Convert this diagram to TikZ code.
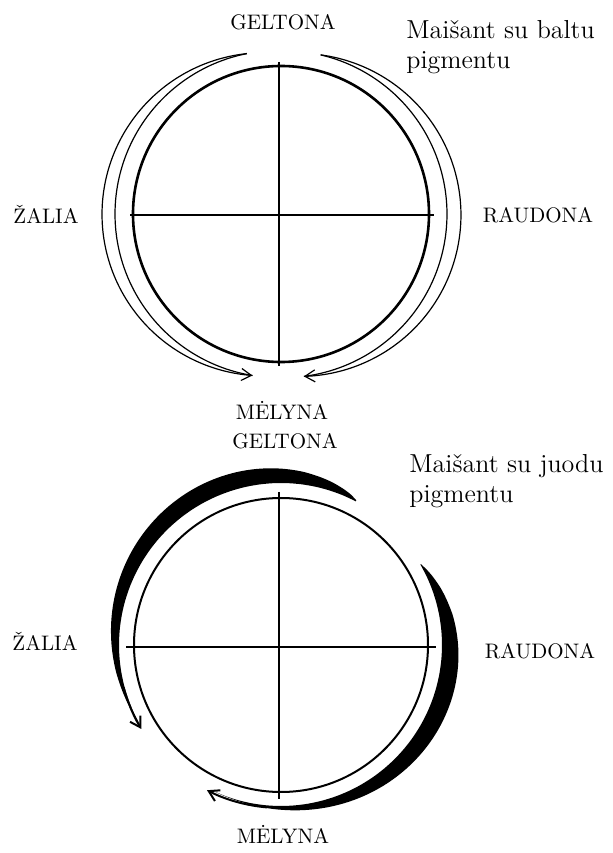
\documentclass[tikz,border=0pt]{standalone}
\usetikzlibrary{arrows.meta}

\begin{document}
\begin{tikzpicture}[x=0.5pt, y=0.5pt,
  every node/.style={inner sep=0pt, font=\fontsize{10.5}{12}\selectfont},
  note/.style={anchor=west, align=left, font=\fontsize{13}{15}\selectfont},
  wheel/.style={line width=1.3pt},
  axis/.style={line width=1pt},
  twin/.style={line width=0.6pt},
  barb/.style={-{Straight Barb[length=5pt,width=6pt]}},
  declare function={bulge(\u,\a,\b)=(\u)^(\a)*(1-(\u))^(\b);}]
\useasboundingbox (0,0) rectangle (613,853);

\coordinate (oA) at (281,639);
\coordinate (nA) at (279,791);
\coordinate (sA) at (279,487);
\coordinate (wA) at (130,638);
\coordinate (eA) at (434,638);

\coordinate (oB) at (281,208);
\coordinate (nB) at (279,361);
\coordinate (sB) at (279,54);
\coordinate (wB) at (126,206);
\coordinate (eB) at (436,206);

\node (geltA) at (283,831) {GELTONA};
\node[note] (baltu) at (406,806) {Maišant su baltu\\pigmentu};
\node (zaliaA) at (46,639) {ŽALIA};
\node (raudA) at (538,638) {RAUDONA};
\node (melA) at (282,443) {MĖLYNA};

\node (geltB) at (285,412) {GELTONA};
\node[note] (juodu) at (409,372) {Maišant su juodu\\pigmentu};
\node (zaliaB) at (45,212) {ŽALIA};
\node (raudB) at (540,202) {RAUDONA};
\node (melB) at (283,19) {MĖLYNA};

\draw[wheel] (oA) circle (148);
\draw[axis] (nA) -- (sA);
\draw[axis] (wA) -- (eA);

\begin{scope}[shift={(oA)}, twin]
\draw plot[domain=102:260, samples=50, smooth] (\x:{164+2*sin((\x-102)/158*180)});
\draw[barb] plot[domain=102:260, samples=50, smooth] (\x:{164+15*sin((\x-102)/158*180)});
\draw plot[domain=76:-82, samples=50, smooth] (\x:{164+2*sin((76-\x)/158*180)});
\draw[barb] plot[domain=76:-82, samples=50, smooth] (\x:{164+16*sin((76-\x)/158*180)});
\end{scope}

\draw[axis] (oB) circle (147);
\draw[axis] (nB) -- (sB);
\draw[axis] (wB) -- (eB);

\begin{scope}[shift={(oB)}]
\fill plot[domain=62.5:209.5, samples=60, smooth] (\x:{162+59.2*bulge((\x-62)/148,0.7,1.2)})
  -- plot[domain=209.5:62.5, samples=30, smooth] (\x:162) -- cycle;
\draw[axis, barb] (195:163) arc[start angle=195, end angle=211, radius=163];
\fill plot[domain=30:-115.5, samples=60, smooth] (\x:{161+100.5*bulge((30.5-\x)/146.5,0.9,1.8)})
  -- plot[domain=-115.5:30, samples=30, smooth] (\x:161) -- cycle;
\draw[axis, barb] (-95:163) arc[start angle=-95, end angle=-117, radius=163];
\end{scope}
\end{tikzpicture}
\end{document}
